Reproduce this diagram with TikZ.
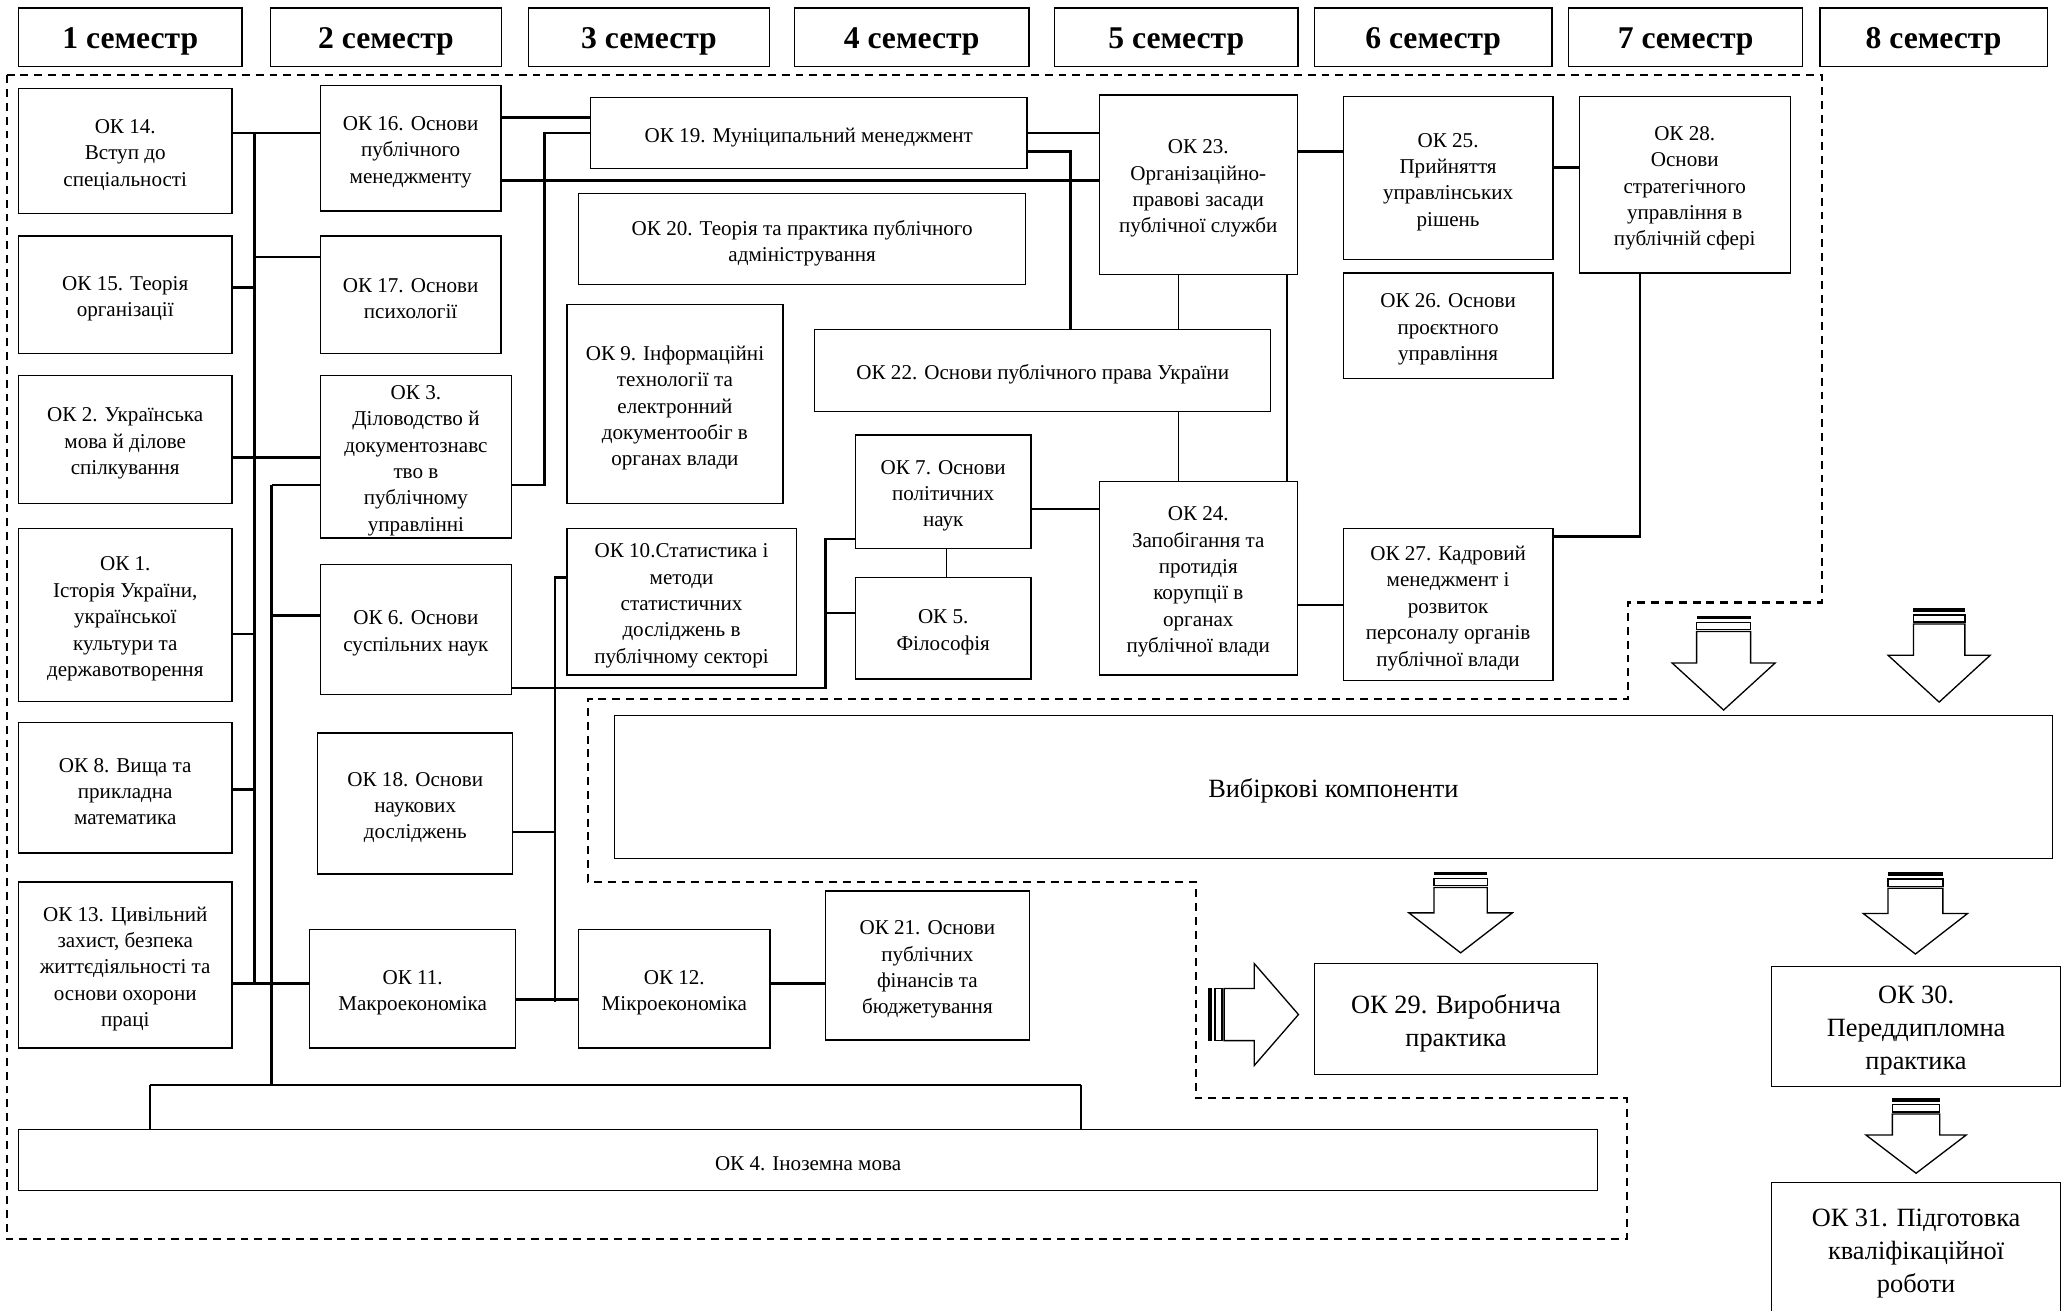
\documentclass[tikz,border=0pt]{standalone}
\usepackage{fontspec}
\setmainfont{Liberation Serif}
\newcommand\obox[7][box]{\node[#1,minimum width=#5pt,minimum height=#6pt] (#2) at (#3,#4) {};
 \node[#1,draw=none] (#2t) at (#3,{#4+3}) {#7};}
\newcommand\dnarr[6]{%
 \fill ({#1-#3},#2) rectangle ({#1+#3},{#2+2.6});
 \draw[arr] ({#1-#3},{#2+5}) rectangle ({#1+#3},{#2+10.5});
 \draw[arr] ({#1-#3},{#2+12}) -- ({#1-#3},#4) -- ({#1-#5},#4) -- (#1,#6) -- ({#1+#5},#4) -- ({#1+#3},#4) -- ({#1+#3},{#2+12}) -- cycle;}
\newcommand\rtarr[6]{%
 \fill (#1,{#2-#3}) rectangle ({#1+2.6},{#2+#3});
 \draw[arr] ({#1+5},{#2-#3}) rectangle ({#1+10.5},{#2+#3});
 \draw[arr] ({#1+12},{#2-#3}) -- (#4,{#2-#3}) -- (#4,{#2-#5}) -- (#6,#2) -- (#4,{#2+#5}) -- (#4,{#2+#3}) -- ({#1+12},{#2+#3}) -- cycle;}
\begin{document}
\begin{tikzpicture}[x=1pt,y=-1pt,
  box/.style={draw,line width=1pt,inner sep=0pt,align=center,font=\fontsize{16}{20}\selectfont},
  hdr/.style={box,font=\fontsize{24}{28}\selectfont\bfseries},
  big/.style={box,font=\fontsize{20}{25}\selectfont},
  con/.style={line width=2pt},
  thn/.style={line width=1.4pt},
  dregion/.style={line width=1.6pt,dash pattern=on 6pt off 4.5pt},
  arr/.style={line width=1pt,fill=white}]
\useasboundingbox (0,0) rectangle (1568,994);
\fill[white] (0,0) rectangle (1568,994);

% dashed region
\draw[dregion] (5,57) -- (1382,57) -- (1382,457) -- (1235,457) -- (1235,530) -- (446,530) -- (446,669) -- (907,669) -- (907,833) -- (1234,833) -- (1234,940) -- (5,940) -- cycle;

% headers
\obox[hdr]{h1}{98.8}{28.3}{169.5}{44.7}{1 семестр}
\obox[hdr]{h2}{292.8}{28.3}{175}{44.7}{2 семестр}
\obox[hdr]{h3}{492.3}{28.3}{182.5}{44.7}{3 семестр}
\obox[hdr]{h4}{691.6}{28.3}{178}{44.7}{4 семестр}
\obox[hdr]{h5}{892.3}{28.3}{184.5}{44.7}{5 семестр}
\obox[hdr]{h6}{1087.2}{28.3}{180.3}{44.7}{6 семестр}
\obox[hdr]{h7}{1278.7}{28.3}{177.4}{44.7}{7 семестр}
\obox[hdr]{h8}{1466.8}{28.3}{172.4}{44.7}{8 семестр}

% column 1
\obox{n14}{95}{114.5}{162}{95}{ОК 14.\\Вступ до\\спеціальності}
\obox{n15}{95}{223.5}{162}{89}{ОК 15. Теорія\\організації}
\obox{n2}{95}{333.5}{162}{97}{ОК 2. Українська\\мова й ділове\\спілкування}
\obox{n1}{95}{466.5}{162}{131}{ОК 1.\\Історія України,\\української\\культури та\\державотворення}
\obox{n8}{95}{597.5}{162}{99}{ОК 8. Вища та\\прикладна\\математика}
\obox{n13}{95}{732}{162}{126}{ОК 13. Цивільний\\захист, безпека\\життєдіяльності та\\основи охорони\\праці}

% column 2
\obox{n16}{311.5}{112.5}{137}{95}{ОК 16. Основи\\публічного\\менеджменту}
\obox{n17}{311.5}{223.5}{137}{89}{ОК 17. Основи\\психології}
\obox{n3}{315.5}{346.5}{145}{123}{ОК 3.\\Діловодство й\\документознавс\\тво в\\публічному\\управлінні}
\obox{n6}{315.5}{477.5}{145}{99}{ОК 6. Основи\\суспільних наук}
\obox{n18}{315}{609.5}{148}{107}{ОК 18. Основи\\наукових\\досліджень}
\obox{n11}{313}{750}{156}{90}{ОК 11.\\Макроекономіка}

% column 3
\obox{n19}{613.5}{101}{331}{54}{ОК 19. Муніципальний менеджмент}
\obox{n20}{608.5}{181.5}{339}{69}{ОК 20. Теорія та практика публічного\\адміністрування}
\obox{n9}{512}{306.5}{164}{151}{ОК 9. Інформаційні\\технології та\\електронний\\документообіг в\\органах влади}
\obox{n10}{517}{456.5}{174}{111}{ОК 10.Статистика і\\методи\\статистичних\\досліджень в\\публічному секторі}
\obox{n12}{511.5}{750}{145}{90}{ОК 12.\\Мікроекономіка}
\obox{n21}{703.5}{732.5}{155}{113}{ОК 21. Основи\\публічних\\фінансів та\\бюджетування}

% column 4
\obox{n22}{791}{281}{346}{62}{ОК 22. Основи публічного права України}
\obox{n7}{715.5}{373}{133}{86}{ОК 7. Основи\\політичних\\наук}
\obox{n5}{715.5}{476.5}{133}{77}{ОК 5.\\Філософія}

% column 5
\obox{n23}{909}{140}{150}{136}{ОК 23.\\Організаційно-\\правові засади\\публічної служби}
\obox{n24}{909}{438.5}{150}{147}{ОК 24.\\Запобігання та\\протидія\\корупції в\\органах\\публічної влади}

% column 6
\obox{n25}{1098.5}{135}{159}{124}{ОК 25.\\Прийняття\\управлінських\\рішень}
\obox{n26}{1098.5}{247}{159}{80}{ОК 26. Основи\\проєктного\\управління}
\obox{n27}{1098.5}{458.5}{159}{115}{ОК 27. Кадровий\\менеджмент і\\розвиток\\персоналу органів\\публічної влади}

% column 7
\obox{n28}{1278}{140}{160}{134}{ОК 28.\\Основи\\стратегічного\\управління в\\публічній сфері}

% bottom part
\obox[big]{nvk}{1011.5}{597}{1091}{108}{Вибіркові компоненти}
\obox[big]{n29}{1104.5}{773}{215}{84}{ОК 29. Виробнича\\практика}
\obox[big]{n30}{1453.5}{778.5}{219}{91}{ОК 30.\\Переддипломна\\практика}
\obox[big]{n31}{1453.5}{948}{219}{102}{ОК 31. Підготовка\\кваліфікаційної\\роботи}
\obox{n4}{613}{880}{1198}{46}{ОК 4. Іноземна мова}

% bus coordinates
\coordinate (bA) at (193,0);
\coordinate (bB) at (206,0);
\coordinate (bC) at (413,0);
\coordinate (bD) at (421,0);
\coordinate (bE) at (626,0);
\coordinate (bF) at (812,0);
\coordinate (bG) at (1244,0);
\coordinate (q1) at (114,823);
\coordinate (q2) at (820,823);

% connectors
\draw[con] (n14.east |- 0,101) -- (n16.west |- 0,101);
\draw[con] (n15.east |- 0,218) -- (bA |- 0,218);
\draw[con] (bA |- 0,195) -- (n17.west |- 0,195);
\draw[con] (n2.east |- 0,347) -- (n3.west |- 0,347);
\draw[con] (n1.east |- 0,481) -- (bA |- 0,481);
\draw[con] (n8.east |- 0,599) -- (bA |- 0,599);
\draw[con] (n13.east |- 0,746) -- (n11.west |- 0,746);
\draw[con] (bA |- 0,101) -- (bA |- 0,746);
\draw[con] (bB |- 0,368) -- (bB |- 0,823);
\draw[con] (bB |- 0,368) -- (n3.west |- 0,368);
\draw[con] (bB |- 0,467) -- (n6.west |- 0,467);
\draw[con] (q1) -- (q2);
\draw[thn] (q1) -- (q1 |- n4.north);
\draw[thn] (q2) -- (q2 |- n4.north);
\draw[con] (n3.east |- 0,368) -- (bC |- 0,368) -- (bC |- 0,101) -- (n19.west |- 0,101);
\draw[con] (n16.east |- 0,89) -- (n19.west |- 0,89);
\draw[con] (n16.east |- 0,137) -- (n23.west |- 0,137);
\draw[con] (n19.east |- 0,101) -- (n23.west |- 0,101);
\draw[con] (n19.east |- 0,115) -- (bF |- 0,115) -- (bF |- n22.north);
\draw[thn] (n23.south -| 894,0) -- (n22.north -| 894,0);
\draw[thn] (n22.south -| 894,0) -- (n24.north -| 894,0);
\draw[thn] (n23.south -| 976,0) -- (n24.north -| 976,0);
\draw[con] (n23.east |- 0,115) -- (n25.west |- 0,115);
\draw[con] (n25.east |- 0,127) -- (n28.west |- 0,127);
\draw[con] (bG |- n28.south) -- (bG |- 0,407) -- (n27.east |- 0,407);
\draw[con] (n7.east |- 0,386) -- (n24.west |- 0,386);
\draw[con] (n24.east |- 0,459) -- (n27.west |- 0,459);
\draw[thn] (n7.south -| 718,0) -- (n5.north -| 718,0);
\draw[con] (n6.east |- 0,522) -- (bE |- 0,522) -- (bE |- 0,409) -- (n7.west |- 0,409);
\draw[con] (bE |- 0,465) -- (n5.west |- 0,465);
\draw[con] (bD |- 0,760) -- (bD |- 0,438) -- (n10.west |- 0,438);
\draw[con] (n18.east |- 0,631) -- (bD |- 0,631);
\draw[con] (n11.east |- 0,758) -- (n12.west |- 0,758);
\draw[con] (n12.east |- 0,746) -- (n21.west |- 0,746);

% block arrows
\dnarr{1307.5}{467}{20.5}{503}{39}{538.6}
\dnarr{1471}{461.4}{19.5}{497}{38.8}{532.6}
\dnarr{1108}{661.3}{20.2}{692.5}{39.2}{722.8}
\dnarr{1453}{661.8}{20.8}{693}{39.5}{723.7}
\dnarr{1453.5}{833}{18}{861}{38}{890}
\rtarr{916.6}{769.6}{19.8}{951.5}{38.6}{985}
\end{tikzpicture}
\end{document}
